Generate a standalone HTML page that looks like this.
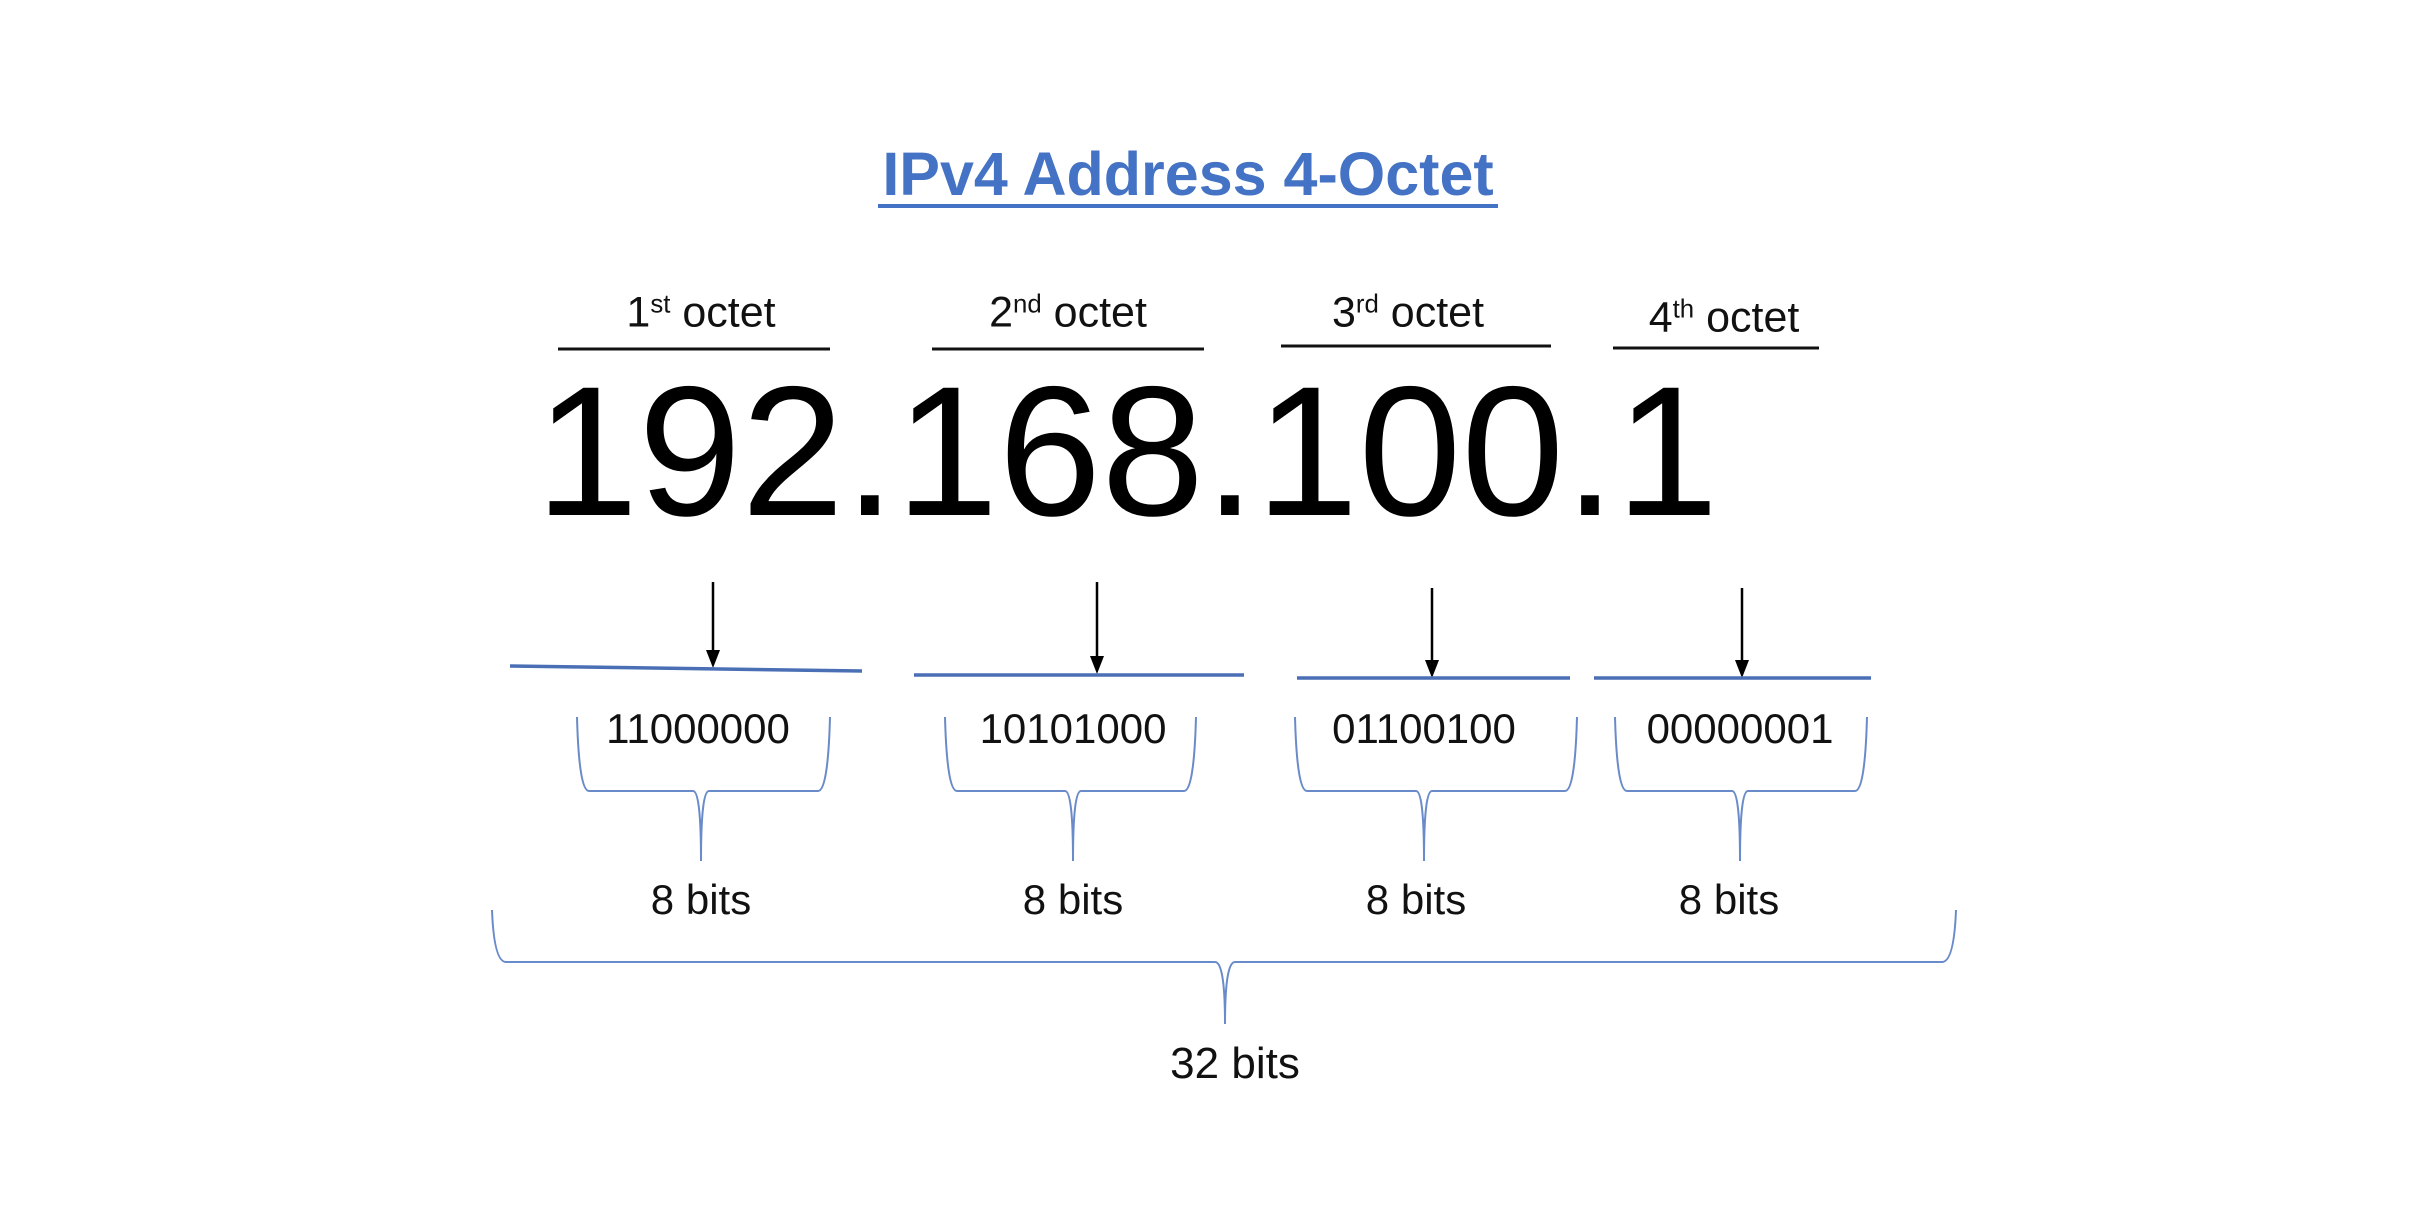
<!DOCTYPE html>
<html><head><meta charset="utf-8"><style>
html,body{margin:0;padding:0;background:#fff;}
body{width:2432px;height:1210px;position:relative;overflow:hidden;font-family:"Liberation Sans",sans-serif;}
.t{position:absolute;white-space:nowrap;transform:translate(-50%,-50%);color:#111;}
sup{font-size:0.6em;vertical-align:0.55em;line-height:0;}
</style></head><body>
<div class="t" style="left:1188px;top:174px;font-size:61px;font-weight:bold;color:#4472C4;">IPv4 Address 4-Octet</div>
<div class="t" style="left:701px;top:313px;font-size:43px;">1<sup>st</sup> octet</div>
<div class="t" style="left:1068px;top:313px;font-size:43px;">2<sup>nd</sup> octet</div>
<div class="t" style="left:1408px;top:313px;font-size:43px;">3<sup>rd</sup> octet</div>
<div class="t" style="left:1724px;top:318px;font-size:43px;">4<sup>th</sup> octet</div>
<div class="t" style="left:1127px;top:452px;font-size:185px;color:#000;">192.168.100.1</div>
<div class="t" style="left:698px;top:729px;font-size:42px;">11000000</div>
<div class="t" style="left:1073px;top:729px;font-size:42px;">10101000</div>
<div class="t" style="left:1424px;top:729px;font-size:42px;">01100100</div>
<div class="t" style="left:1740px;top:729px;font-size:42px;">00000001</div>
<div class="t" style="left:701px;top:900px;font-size:42px;">8 bits</div>
<div class="t" style="left:1073px;top:900px;font-size:42px;">8 bits</div>
<div class="t" style="left:1416px;top:900px;font-size:42px;">8 bits</div>
<div class="t" style="left:1729px;top:900px;font-size:42px;">8 bits</div>
<div class="t" style="left:1235px;top:1064px;font-size:44px;">32 bits</div>
<svg width="2432" height="1210" style="position:absolute;left:0;top:0">
<line x1="878" y1="206" x2="1498" y2="206" stroke="#4472C4" stroke-width="4"/>
<g stroke="#111" stroke-width="3">
<line x1="558" y1="349" x2="830" y2="349"/>
<line x1="932" y1="349" x2="1204" y2="349"/>
<line x1="1281" y1="346" x2="1551" y2="346"/>
<line x1="1613" y1="348" x2="1819" y2="348"/>
</g>
<g stroke="#000" stroke-width="2.5">
<line x1="713" y1="582" x2="713" y2="652"/>
<line x1="1097" y1="582" x2="1097" y2="658"/>
<line x1="1432" y1="588" x2="1432" y2="662"/>
<line x1="1742" y1="588" x2="1742" y2="662"/>
</g>
<g fill="#000">
<path d="M706,650 L720,650 L713,668 Z"/>
<path d="M1090,656 L1104,656 L1097,674 Z"/>
<path d="M1425,660 L1439,660 L1432,678 Z"/>
<path d="M1735,660 L1749,660 L1742,678 Z"/>
</g>
<g stroke="#4a6fb5" stroke-width="3.5">
<line x1="510" y1="666" x2="862" y2="671"/>
<line x1="914" y1="675" x2="1244" y2="675"/>
<line x1="1297" y1="678" x2="1570" y2="678"/>
<line x1="1594" y1="678" x2="1871" y2="678"/>
</g>
<g stroke="#6a8bc9" stroke-width="2" fill="none">
<path d="M577,717 Q579,791 589,791 L693,791 Q701,791 701,861 Q701,791 709,791 L818,791 Q828,791 830,717"/>
<path d="M945,717 Q947,791 957,791 L1065,791 Q1073,791 1073,861 Q1073,791 1081,791 L1184,791 Q1194,791 1196,717"/>
<path d="M1295,717 Q1297,791 1307,791 L1416,791 Q1424,791 1424,861 Q1424,791 1432,791 L1565,791 Q1575,791 1577,717"/>
<path d="M1615,717 Q1617,791 1627,791 L1732,791 Q1740,791 1740,861 Q1740,791 1748,791 L1855,791 Q1865,791 1867,717"/>
<path d="M492,910 Q494,962 506,962 L1215,962 Q1225,962 1225,1024 Q1225,962 1235,962 L1942,962 Q1954,962 1956,910"/>
</g>
</svg>
</body></html>
